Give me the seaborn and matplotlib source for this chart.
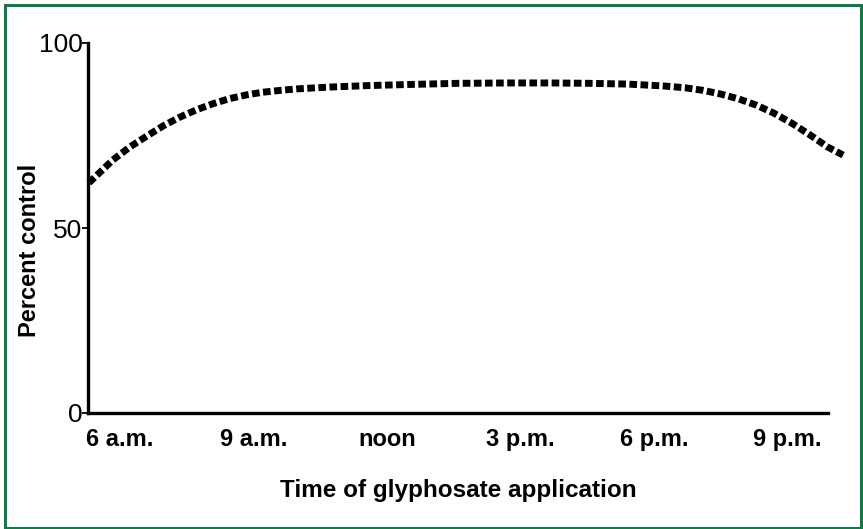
import matplotlib
matplotlib.use('Agg')
import matplotlib.pyplot as plt
import seaborn as sns
import pandas as pd
from matplotlib.patches import Rectangle

# Hour of day (24h) and percent control
hours = [5.30, 5.84, 6.22, 6.61, 6.97, 7.35, 7.73, 8.09, 8.47, 8.85, 9.21, 9.60,
         9.98, 10.72, 11.60, 12.52, 13.60, 14.76, 15.70, 16.56, 17.40, 18.20,
         18.70, 19.10, 19.50, 19.90, 20.30, 20.70, 21.10, 21.50, 21.90, 22.25]
pct_control = [62.2, 68.4, 71.9, 74.9, 77.6, 80.0, 82.0, 83.6, 85.0, 86.0, 86.7, 87.2,
               87.6, 88.1, 88.5, 88.8, 89.1, 89.2, 89.2, 89.1, 88.9, 88.4,
               87.9, 87.2, 86.2, 84.9, 83.2, 81.0, 78.3, 75.2, 71.9, 69.7]

tick_hours = [6, 9, 12, 15, 18, 21]
tick_labels = ['6 a.m.', '9 a.m.', 'noon', '3 p.m.', '6 p.m.', '9 p.m.']

df = pd.DataFrame({'hour': hours, 'pct': pct_control})

sns.set_style('ticks')
plt.rcParams['font.family'] = ['Liberation Sans', 'DejaVu Sans']
plt.rcParams['text.color'] = 'black'
plt.rcParams['axes.labelcolor'] = 'black'
plt.rcParams['xtick.color'] = 'black'
plt.rcParams['ytick.color'] = 'black'

fig = plt.figure(figsize=(8.63, 5.29), dpi=100)
ax = fig.add_axes([88 / 863, 1 - 413 / 529, (828 - 88) / 863, (413 - 43) / 529])

sns.lineplot(data=df, x='hour', y='pct', ax=ax, color='black', linewidth=5,
             linestyle=(0, (1.1, 0.5)), clip_on=False)

ax.set_xlim(5.28, 21.91)
ax.set_ylim(0, 100)
ax.set_yticks([0, 50, 100])
ax.set_xticks(tick_hours)
ax.set_xticklabels(tick_labels, fontsize=17, fontweight='bold')
ax.tick_params(axis='x', length=0, pad=11)
ax.tick_params(axis='y', length=4.5, width=1.3, pad=-0.5, labelsize=19)

for side in ['top', 'right']:
    ax.spines[side].set_visible(False)
for side in ['left', 'bottom']:
    ax.spines[side].set_linewidth(2.4)
    ax.spines[side].set_color('black')

ax.set_xlabel('Time of glyphosate application', fontsize=17.5, fontweight='bold')
ax.set_ylabel('Percent control', fontsize=17, fontweight='bold')
ax.xaxis.set_label_coords(0.5, -(491 - 413) / 370)
ax.yaxis.set_label_coords((30 - 88) / 740, (413 - 250) / 370)
ax.xaxis.label.set_va('center')
ax.yaxis.label.set_va('center')

# green frame around the whole figure
fig.patches.append(Rectangle((4.5 / 863, 1 / 529), (861 - 4.5) / 863, (528 - 5) / 529,
                             transform=fig.transFigure, fill=False,
                             edgecolor='#0e7a45', linewidth=2.2))

fig.savefig('out.png', dpi=100)
